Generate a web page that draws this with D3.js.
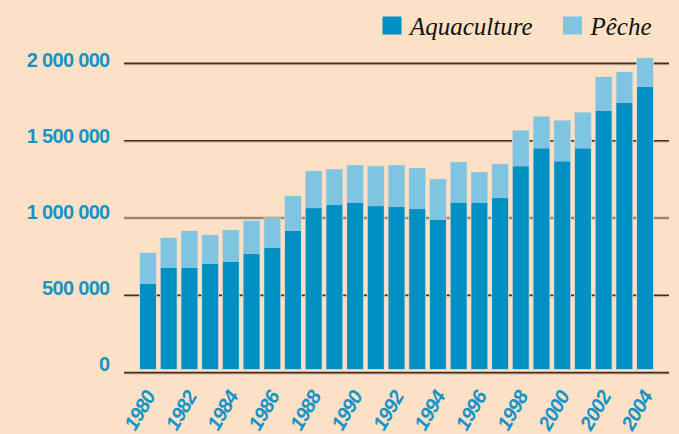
<!DOCTYPE html>
<html>
<head>
<meta charset="utf-8">
<script src="https://cdn.jsdelivr.net/npm/d3@7"></script>
<style>
  html, body { margin: 0; padding: 0; background: #fde1c6; }
  svg { display: block; }
</style>
</head>
<body>
<svg id="chart" width="679" height="434"></svg>
<script>
// Production par année (tonnes)
const years = d3.range(1980, 2005).map(String);
const aquaculture = [573000, 677000, 677000, 703000, 716000, 767000, 806000, 916000, 1064000, 1084000,
                     1097000, 1077000, 1071000, 1058000, 987000, 1097000, 1097000, 1129000, 1335000, 1451000,
                     1367000, 1451000, 1694000, 1746000, 1848000];
const peche = [201000, 194000, 239000, 187000, 206000, 214000, 194000, 226000, 239000, 231000,
               244000, 258000, 270000, 264000, 264000, 264000, 199000, 219000, 231000, 205000,
               263000, 231000, 218000, 198000, 186000];
const yTicks = [0, 500000, 1000000, 1500000, 2000000];
const xTickYears = years.filter((d, i) => i % 2 === 0);
const seriesNames = ["Aquaculture", "Pêche"];
const colors = ["#0090c3", "#7fc4e0"];

const svg = d3.select("#chart");
const W = 679, H = 434;
svg.append("rect").attr("width", W).attr("height", H).attr("fill", "#fde1c6");

const x = d3.scaleBand().domain(years).range([137.65, 655.4])
  .paddingInner(0.227).paddingOuter(0.1135);
const y = d3.scaleLinear().domain([0, 2000000]).range([372.6, 63.4]);
// tick labels sit on a slightly tighter ladder than the rules
const yLab = d3.scaleLinear().domain([0, 2000000]).range([363.7, 60]);
const fmt = v => d3.format(",")(v).replace(/,/g, " ");

const gridX0 = 124, gridX1 = 669;

// horizontal rules
const grid = svg.append("g");
yTicks.forEach(v => {
  const yy = y(v);
  if (v === 1000000) {
    grid.append("line").attr("x1", gridX0).attr("x2", gridX1).attr("y1", yy).attr("y2", yy)
      .attr("stroke", "#988676").attr("stroke-width", 2.6);
  } else {
    grid.append("line").attr("x1", gridX0).attr("x2", gridX1).attr("y1", yy + 1.3).attr("y2", yy + 1.3)
      .attr("stroke", "#c2b09e").attr("stroke-width", 1);
    grid.append("line").attr("x1", gridX0).attr("x2", gridX1).attr("y1", yy).attr("y2", yy)
      .attr("stroke", "#3e2f26").attr("stroke-width", 1.6);
  }
});

// y labels
svg.append("g").selectAll("text").data(yTicks).join("text")
  .attr("x", 109.5).attr("y", d => yLab(d)).attr("dy", "0.36em")
  .attr("text-anchor", "end")
  .attr("font-family", "'Liberation Sans', Arial, sans-serif")
  .attr("font-weight", "bold").attr("font-size", 20).attr("letter-spacing", -0.7)
  .attr("fill", "#1693c6")
  .text(fmt);

// stacked bars
const table = years.map((yr, i) => ({ year: yr, Aquaculture: aquaculture[i], "Pêche": peche[i] }));
const stack = d3.stack().keys(seriesNames)(table);
const baseGap = 3.5; // bars stop just above the baseline rule

const bars = svg.append("g");
// faint outline behind each column
bars.selectAll("rect.edge").data(table).join("rect").attr("class", "edge")
  .attr("x", d => x(d.year) - 0.8).attr("width", x.bandwidth() + 1.6)
  .attr("y", d => y(d.Aquaculture + d["Pêche"]) - 0.5)
  .attr("height", d => y(0) - baseGap - y(d.Aquaculture + d["Pêche"]) + 1)
  .attr("fill", "#e4d6c8");

stack.forEach((s, k) => {
  bars.append("g").attr("fill", colors[k]).selectAll("rect").data(s).join("rect")
    .attr("x", d => x(d.data.year)).attr("width", x.bandwidth())
    .attr("y", d => y(d[1]))
    .attr("height", d => (k === 0 ? y(d[0]) - baseGap : y(d[0])) - y(d[1]));
});

// x labels, slanted
svg.append("g").selectAll("text").data(xTickYears).join("text")
  .attr("transform", d => `translate(${x(d) + x.bandwidth() / 2 + 8},396) rotate(-60)`)
  .attr("text-anchor", "end")
  .attr("font-family", "'Liberation Sans', Arial, sans-serif")
  .attr("font-weight", "bold").attr("font-style", "italic").attr("font-size", 20)
  .attr("letter-spacing", -0.8)
  .attr("fill", "#1693c6")
  .text(d => d);

// legend
const legend = svg.append("g");
const legX = [382.5, 563];
seriesNames.forEach((name, k) => {
  legend.append("rect").attr("x", legX[k]).attr("y", 16.5).attr("width", 19).attr("height", 18)
    .attr("fill", colors[k]);
  legend.append("text").attr("x", legX[k] + 27.5).attr("y", 34.5)
    .attr("font-family", "'Liberation Serif', 'Times New Roman', serif")
    .attr("font-style", "italic").attr("font-size", 25).attr("fill", "#111")
    .text(name);
});
</script>
</body>
</html>
